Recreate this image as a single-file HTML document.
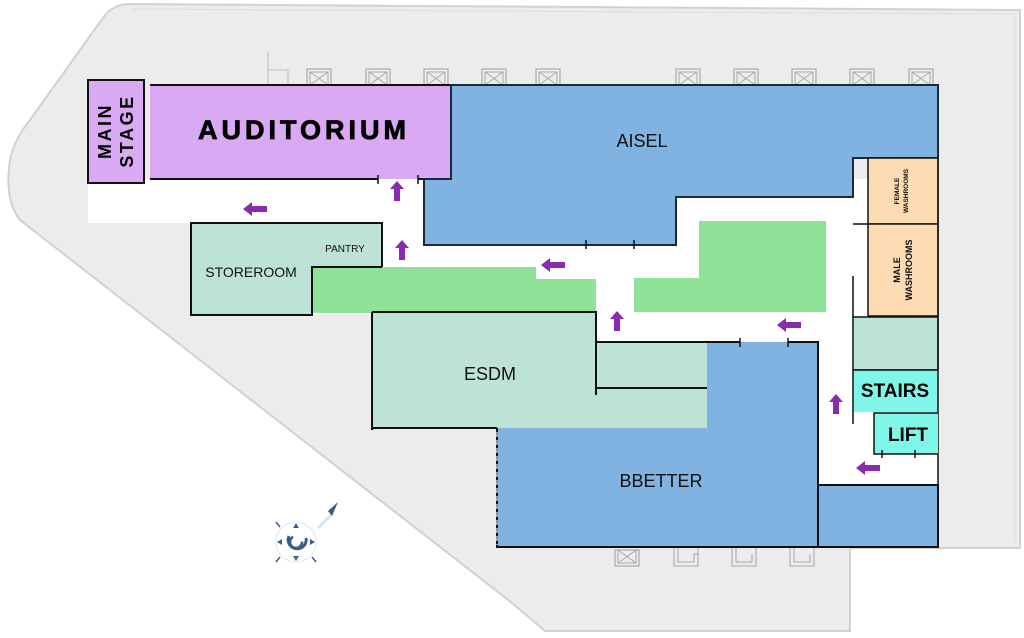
<!DOCTYPE html>
<html><head><meta charset="utf-8"><style>
html,body{margin:0;padding:0;background:#fff;width:1024px;height:638px;overflow:hidden}
svg{display:block}
text{font-family:"Liberation Sans",sans-serif}
</style></head><body>
<svg width="1024" height="638" viewBox="0 0 1024 638" xmlns="http://www.w3.org/2000/svg">
<defs>
<g id="win"><rect x="0" y="0" width="24" height="16" fill="none" stroke="#aaa" stroke-width="1.2"/><rect x="3" y="3" width="18" height="13" fill="none" stroke="#aaa" stroke-width="1"/><path d="M3 3L21 16M21 3L3 16" stroke="#aaa" stroke-width="1"/></g>
<g id="arrU"><path d="M0 -10L7 -2H3V10H-3V-2H-7Z" fill="#8a2aae"/></g>
<g id="arrL"><path d="M-12 0L-3 -7V-3H12V3H-3V7Z" fill="#8a2aae"/></g>
</defs>
<path d="M130 4 L1020 10 L1020 548 L850 548 L850 631 L545 631 L512 603 L20 220 Q4 200 10 160 Q14 140 30 120 L105 15 Q115 4 130 4Z" fill="#ececec" stroke="#d8d0c8" stroke-width="2"/>
<path d="M132 9 L1015 14 L1015 543" fill="none" stroke="#ddd" stroke-width="1"/>
<path d="M268 52 V85 M268 70 H288 V85" fill="none" stroke="#bbb" stroke-width="1"/>
<use href="#win" x="307" y="69"/><use href="#win" x="366" y="69"/><use href="#win" x="424" y="69"/><use href="#win" x="482" y="69"/><use href="#win" x="536" y="69"/>
<use href="#win" x="676" y="69"/><use href="#win" x="734" y="69"/><use href="#win" x="792" y="69"/><use href="#win" x="850" y="69"/><use href="#win" x="909" y="69"/>
<g transform="translate(0,566) scale(1,-1)"><use href="#win" x="615" y="0"/></g>
<path d="M674 548V566H698V548M678 548V562H694V554H698 M732 548V566H756V548M736 548V562H752V554 M790 548V566H814V548M794 548V562H810V554" fill="none" stroke="#aaa" stroke-width="1.1"/>
<path d="M88 179 H938 V548 H497 V428 H372 V315 H191 V223 H88Z" fill="#fff"/>
<rect x="88" y="80" width="56" height="103" fill="#d9aaf3" stroke="#111" stroke-width="2"/>
<text transform="translate(111,131) rotate(-90)" text-anchor="middle" font-size="18" font-weight="900" letter-spacing="2.5" fill="#000">MAIN</text>
<text transform="translate(133,131) rotate(-90)" text-anchor="middle" font-size="18" font-weight="900" letter-spacing="2.5" fill="#000">STAGE</text>
<rect x="150" y="85" width="301" height="94" fill="#d9aaf3"/>
<path d="M150 85 H451 M150 179 H378 M418 179 H451" stroke="#111" stroke-width="2" fill="none"/>
<path d="M378 175V184 M418 175V184" stroke="#111" stroke-width="1.5"/>
<text x="304" y="139" text-anchor="middle" font-size="27" font-weight="900" letter-spacing="4" fill="#000" stroke="#000" stroke-width="0.8">AUDITORIUM</text>
<path d="M451 85 H938 V158 H853 V197 H676 V245 H424 V179 H451Z" fill="#80b3e2" stroke="#1a2a36" stroke-width="2"/>
<path d="M586 240V249 M634 240V249" stroke="#111" stroke-width="1.5"/>
<text x="642" y="147" text-anchor="middle" font-size="18" fill="#111">AISEL</text>
<path d="M191 223 H382 V267 H312 V315 H191Z" fill="#bde3d6" stroke="#111" stroke-width="2"/>
<text x="345" y="252" text-anchor="middle" font-size="10" fill="#111">PANTRY</text>
<text x="251" y="277" text-anchor="middle" font-size="14" fill="#111">STOREROOM</text>
<path d="M312 267 H536 V279 H596 V313 H312Z" fill="#8ee398"/>
<path d="M312 267 H382 M312 267 V315" stroke="#111" stroke-width="2"/>
<path d="M634 278 H699 V221 H826 V312 H634Z" fill="#8ee398"/>
<path d="M372 312 H596 V342 H707 V428 H372Z" fill="#bde3d6"/>
<path d="M372 312 H596 V395 M372 312 V430 M596 388 H707 M372 428 H497" stroke="#111" stroke-width="2" fill="none"/>
<text x="490" y="380" text-anchor="middle" font-size="18" fill="#111">ESDM</text>
<path d="M707 342 H818 V485 H938 V547 H497 V428 H707Z" fill="#80b3e2"/>
<path d="M596 342 H740 M788 342 H818 V547 M818 485 H938 V547 H497 V428" stroke="#111" stroke-width="2" fill="none"/>
<path d="M740 338V347 M788 338V347" stroke="#111" stroke-width="1.5"/>
<path d="M497 432V545" stroke="#999" stroke-width="2" stroke-dasharray="5 3"/>
<text x="661" y="487" text-anchor="middle" font-size="18" fill="#111">BBETTER</text>
<rect x="868" y="158" width="70" height="66" fill="#fddbb3" stroke="#111" stroke-width="1.5"/>
<rect x="868" y="224" width="70" height="92" fill="#fddbb3" stroke="#111" stroke-width="1.5"/>
<path d="M853 224 H868 M853 276 V318" stroke="#111" stroke-width="1.5"/>
<text transform="translate(901,191) rotate(-90)" text-anchor="middle" font-size="6.5" font-weight="bold" fill="#111"><tspan x="0" dy="-2">FEMALE</tspan><tspan x="0" dy="9">WASHROOMS</tspan></text>
<text transform="translate(903,270) rotate(-90)" text-anchor="middle" font-size="9" font-weight="bold" fill="#111"><tspan x="0" dy="-3">MALE</tspan><tspan x="0" dy="12">WASHROOMS</tspan></text>
<rect x="853" y="317" width="85" height="53" fill="#bde3d6" stroke="#111" stroke-width="1.5"/>
<rect x="853" y="370" width="85" height="42" fill="#7ff6e8"/>
<path d="M853 370 H938 M938 158 V548 M853 370 V424" stroke="#111" stroke-width="1.5"/>
<text x="895" y="397" text-anchor="middle" font-size="19" font-weight="bold" fill="#000">STAIRS</text>
<path d="M874 413 H938 V454 H874Z" fill="#7ff6e8"/>
<path d="M938 413 H874 V454 H938" stroke="#111" stroke-width="1.5" fill="none"/>
<path d="M882 450V458 M915 450V458" stroke="#111" stroke-width="1.5"/>
<text x="908" y="441" text-anchor="middle" font-size="19" font-weight="bold" fill="#000">LIFT</text>
<use href="#arrU" x="397" y="191"/>
<use href="#arrL" x="255" y="209"/>
<use href="#arrU" x="402" y="250"/>
<use href="#arrL" x="553" y="265"/>
<use href="#arrU" x="617" y="321"/>
<use href="#arrL" x="789" y="325"/>
<use href="#arrU" x="836" y="404"/>
<use href="#arrL" x="868" y="468"/>
<g transform="translate(296,542)">
<circle r="20" fill="none" stroke="#dde4ee" stroke-width="1"/>
<path d="M-7 -6 A9 9 0 1 0 10 -4" fill="none" stroke="#3b5d85" stroke-width="3"/>
<circle r="6" fill="none" stroke="#3b5d85" stroke-width="2.5" stroke-dasharray="25 12"/>
<path d="M0 -19l3 5h-6zM0 19l3 -5h-6zM-19 0l5 3v-6zM19 0l-5 3v-6z" fill="#3b5d85"/>
<path d="M-20 -20l4 5M20 20l-4 -5M-20 20l4 -5" stroke="#3b5d85" stroke-width="1.5"/>
<path d="M22 -14 L36 -28" stroke="#dde4ee" stroke-width="3"/>
<path d="M42 -40 L36 -26 L32 -31Z" fill="#3b5d85"/>
</g>
</svg>
</body></html>
